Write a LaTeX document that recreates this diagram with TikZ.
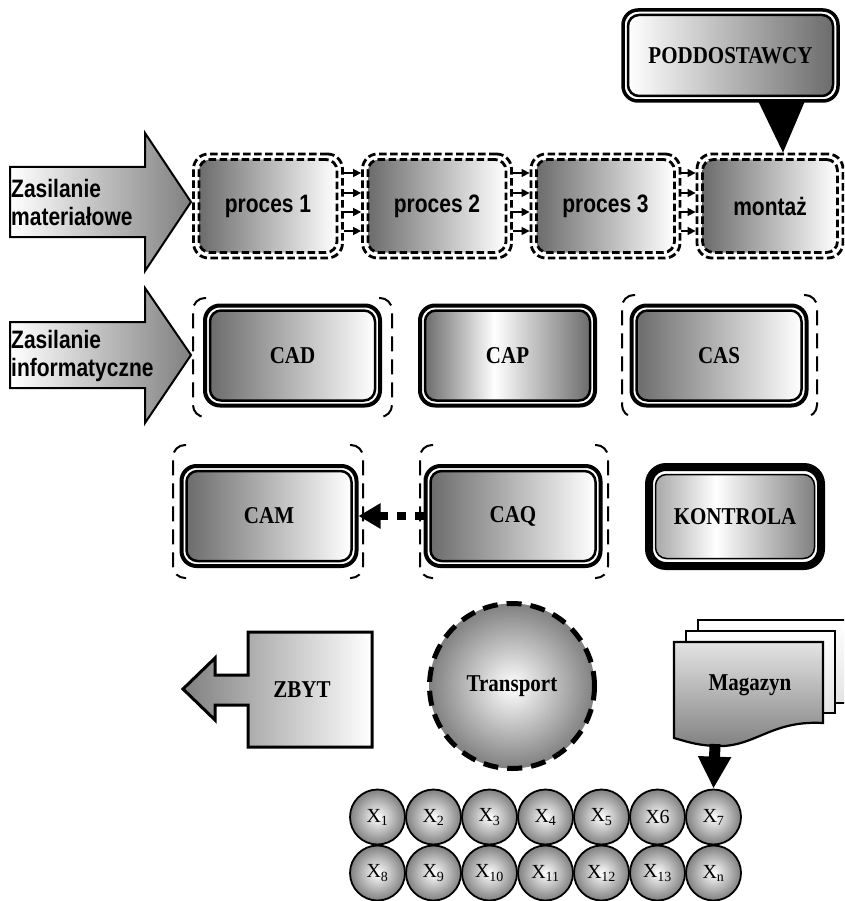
\documentclass[tikz,border=0pt]{standalone}
\usepackage{fontspec}
\setmainfont{Liberation Serif}
\newfontfamily\arialf{Liberation Sans}
\usetikzlibrary{arrows.meta}
\definecolor{dk}{HTML}{6C6C6C}
\definecolor{md}{HTML}{808080}
\definecolor{lg}{HTML}{A8A8A8}
\definecolor{pg}{HTML}{E4E4E4}
\pgfdeclarehorizontalshading{ctrlshade}{100bp}{color(0bp)=(lg); color(25bp)=(lg); color(44bp)=(white); color(75bp)=(md); color(100bp)=(md)}
\pgfdeclarehorizontalshading{capshade}{100bp}{color(0bp)=(dk); color(25bp)=(dk); color(46bp)=(white); color(75bp)=(dk); color(100bp)=(dk)}
\newcommand\sv[1]{\scalebox{1}[1.15]{#1}}
\newcommand\svs[1]{\scalebox{1}[1.2]{#1}}
\newcommand\mybrk[4]{%
  \draw[brk] (#1+13,-#2) -- (#1,-#2) -- (#1,-#4) -- (#1+13,-#4);
  \draw[brk] (#3-13,-#2) -- (#3,-#2) -- (#3,-#4) -- (#3-13,-#4);}
\tikzset{
  lbl/.style={font=\fontsize{21}{25}\selectfont\bfseries},
  slbl/.style={font=\arialf\fontsize{21}{23}\selectfont\bfseries},
  inbox/.style={draw, line width=2.5pt, rounded corners=11pt, minimum width=165pt, minimum height=90pt, inner sep=0pt, lbl},
  outbox/.style={draw, line width=4pt, rounded corners=15pt, minimum width=175pt, minimum height=100pt, inner sep=0pt},
  darkfill/.style={left color=dk, right color=white},
  pdash/.style={draw, line width=2.8pt, dash pattern=on 7.5pt off 3.5pt},
  pin/.style={pdash, rounded corners=11pt, minimum width=138pt, minimum height=93pt, inner sep=0pt, slbl, left color=dk, right color=white},
  pout/.style={pdash, rounded corners=15pt, minimum width=149pt, minimum height=104pt, inner sep=0pt},
  parr/.style={line width=1.5pt, -{Triangle[length=8pt,width=8pt]}},
  brk/.style={line width=2pt, dash pattern=on 15pt off 8pt, rounded corners=12pt},
  feed/.style={draw, line width=2pt, left color=white, right color=md},
  xc/.style={circle, draw, line width=1.8pt, minimum size=55pt, inner sep=0pt, inner color=white, outer color=md, font=\fontsize{20}{24}\selectfont},
  page/.style={draw, line width=2.2pt, top color=white, bottom color=pg},
}
\begin{document}
\begin{tikzpicture}[x=1pt,y=1pt]
\clip (0,0) rectangle (844,-901);
\fill[white] (0,0) rectangle (844,-901);
% PODDOSTAWCY
\node[inbox, minimum width=205pt, minimum height=81pt, left color=white, right color=dk] (pod) at (730.5,-55.5) {\sv{PODDOSTAWCY}};
\node[outbox, line width=3.5pt, minimum width=215pt, minimum height=91pt] (podo) at (730.5,-55.5) {};
% processes
\node[pin] (p1) at (268,-206) {\svs{proces 1}};
\node[pout] (p1o) at (268,-206) {};
\node[pin] (p2) at (437,-206) {\svs{proces 2}};
\node[pout] (p2o) at (437,-206) {};
\node[pin] (p3) at (605.5,-206) {\svs{proces 3}};
\node[pout] (p3o) at (605.5,-206) {};
\node[pin, minimum width=135pt] (p4) at (770,-206) {\svs{montaż}};
\node[pout, minimum width=146pt] (p4o) at (770,-206) {};
\foreach \pa/\pb in {p1o/p2o,p2o/p3o,p3o/p4o}
  \foreach \dy in {33,13,-6,-25}
    \draw[parr] ([yshift=\dy pt]\pa.east) -- ([yshift=\dy pt]\pb.west);
% callout pointer
\fill[black] ([xshift=27pt,yshift=3pt]podo.south) -- ([xshift=75pt,yshift=3pt]podo.south) -- ([xshift=13pt]p4o.north) -- cycle;
% feed arrows
\draw[feed] (10,-167) -- (145,-167) -- (145,-133) -- (191,-202) -- (145,-271) -- (145,-237) -- (10,-237) -- cycle;
\node[slbl, anchor=west, inner sep=0pt] (zm) at (11,-206) {\svs{\begin{tabular}{@{}l@{}}Zasilanie\\materiałowe\end{tabular}}};
\draw[feed] (10,-322) -- (145,-322) -- (145,-288) -- (191,-355) -- (145,-423) -- (145,-388) -- (10,-388) -- cycle;
\node[slbl, anchor=west, inner sep=0pt] (zi) at (11,-357) {\svs{\begin{tabular}{@{}l@{}}Zasilanie\\informatyczne\end{tabular}}};
% row 2
\node[inbox, darkfill] (cad) at (292.5,-355.5) {\sv{CAD}};
\node[outbox] (cado) at (292.5,-355.5) {};
\node[inbox, shade, shading=capshade] (cap) at (507.5,-355.5) {\sv{CAP}};
\node[outbox] (capo) at (507.5,-355.5) {};
\node[inbox, darkfill] (cas) at (719,-355.5) {\sv{CAS}};
\node[outbox] (caso) at (719,-355.5) {};
\mybrk{193}{298}{392}{417}
\mybrk{622}{295}{817}{417}
% row 3
\node[inbox, darkfill] (cam) at (269,-516) {\sv{CAM}};
\node[outbox] (camo) at (269,-516) {};
\node[inbox, darkfill] (caq) at (513,-516) {\sv{CAQ}};
\node[outbox] (caqo) at (513,-516) {};
\mybrk{173}{445}{363}{578}
\mybrk{420}{445}{608}{578}
\draw[line width=8pt, dash pattern=on 9pt off 9pt, -{Triangle[length=22pt,width=24pt]}] (caqo.west) -- (camo.east);
\node[inbox, line width=1.5pt, minimum width=159pt, minimum height=84pt, shade, shading=ctrlshade] (kon) at (735,-516.5) {\sv{KONTROLA}};
\node[outbox, line width=8pt, minimum width=172pt, minimum height=99pt, rounded corners=17pt] (kono) at (735,-516.5) {};
% ZBYT
\draw[line width=3pt, left color=md, right color=white] (248,-632) -- (372,-632) -- (372,-747) -- (248,-747) -- (248,-705) -- (215,-705) -- (215,-720) -- (183,-689) -- (215,-658) -- (215,-675) -- (248,-675) -- cycle;
\node[lbl] (zbyt) at (302,-690) {\sv{ZBYT}};
% Transport
\node[circle, draw, line width=5pt, dash pattern=on 15pt off 9pt, minimum size=165pt, inner sep=0pt, inner color=white, outer color=md, lbl] (tr) at (512,-686) {\sv{Transport}};
% Magazyn
\draw[page] (698,-620) rectangle (850,-703);
\draw[page] (686,-631) rectangle (835,-713);
\draw[line width=2.2pt, top color=pg, bottom color=md] (674,-642) -- (823,-642) -- (823,-723) .. controls (770,-720) and (755,-748) .. (715,-746) .. controls (695,-745) and (685,-741) .. (674,-738) -- cycle;
\node[lbl] (mag) at (750,-685) {\sv{Magazyn}};
\coordinate (magb) at (715,-744);
% X circles
\node[xc] (x1) at (377.5,-817) {X\textsubscript{1}};
\node[xc] (x2) at (433.5,-817) {X\textsubscript{2}};
\node[xc] (x3) at (489.5,-817) {X\textsubscript{3}};
\node[xc] (x4) at (545.5,-817) {X\textsubscript{4}};
\node[xc] (x5) at (601.5,-817) {X\textsubscript{5}};
\node[xc] (x6) at (657.5,-817) {X6};
\node[xc] (x7) at (713.5,-817) {X\textsubscript{7}};
\node[xc] (x8) at (377.5,-873) {X\textsubscript{8}};
\node[xc] (x9) at (433.5,-873) {X\textsubscript{9}};
\node[xc] (x10) at (489.5,-873) {X\textsubscript{10}};
\node[xc] (x11) at (545.5,-873) {X\textsubscript{11}};
\node[xc] (x12) at (601.5,-873) {X\textsubscript{12}};
\node[xc] (x13) at (657.5,-873) {X\textsubscript{13}};
\node[xc] (xn) at (713.5,-873) {X\textsubscript{n}};
\draw[line width=11pt, -{Triangle[length=32pt,width=31pt]}] (magb) -- (x7.north);
\end{tikzpicture}
\end{document}
